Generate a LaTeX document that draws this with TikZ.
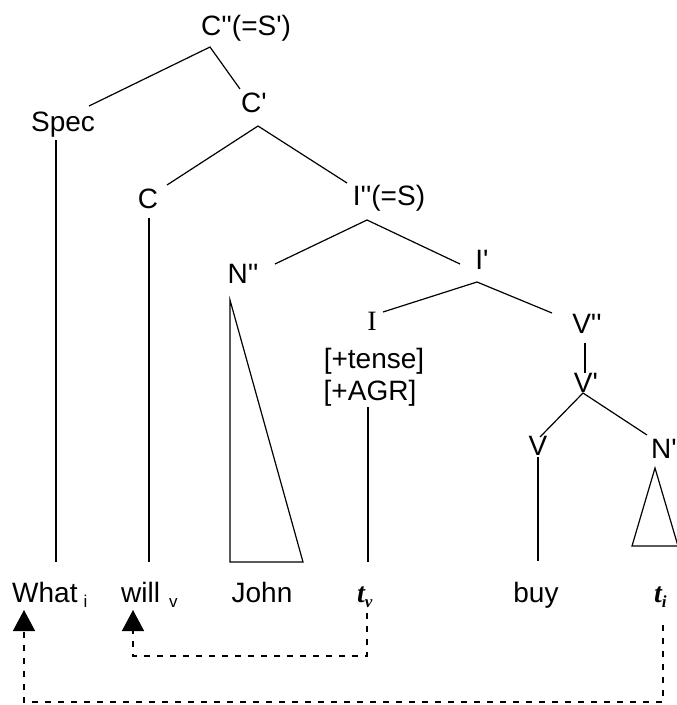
\documentclass[tikz,border=0pt]{standalone}
\usepackage{fontspec}
\setmainfont{Liberation Sans}[Ligatures=TeXOff]
\newfontfamily\serifI{Liberation Serif}
\usetikzlibrary{arrows.meta}

\tikzset{
  lab/.style={inner sep=0pt, anchor=base, font=\fontsize{28}{33}\selectfont},
  edge/.style={line width=1.2pt},
  trace/.style={line width=1.4pt, dash pattern=on 6pt off 7pt,
    -{Triangle[width=22pt,length=21pt]}},
}
\newcommand\subsc[1]{\raisebox{-5pt}{\fontsize{17}{17}\selectfont #1}}
\newcommand\trc[1]{{\serifI\bfseries\itshape t}\subsc{\serifI\bfseries\itshape #1}}

\begin{document}
\begin{tikzpicture}[x=1pt,y=-1pt]
\useasboundingbox (0,0) rectangle (677,705);

% category labels
\node[lab] (Cpp)   at (246,35)  {C''(=S')};
\node[lab] (Cp)    at (254,112) {C'};
\node[lab] (Spec)  at (63,131)  {Spec};
\node[lab] (C)     at (148,208) {C};
\node[lab] (Ipp)   at (389,205) {I''(=S)};
\node[lab] (Npp)   at (243,283) {N''};
\node[lab] (Ip)    at (482,269) {I'};
\node[lab] (I)     at (372,330) {\serifI I};
\node[lab] (tense) at (374,368) {[+tense]};
\node[lab] (agr)   at (370,400) {[+AGR]};
\node[lab] (Vpp)   at (587,333) {V''};
\node[lab] (Vp)    at (586,392) {V'};
\node[lab] (V)     at (538,455) {V};
\node[lab] (Np)    at (664,458) {N'};

% terminal string
\node[lab, anchor=base west] (what) at (12,602)  {What\hspace{6pt}\subsc{i}};
\node[lab, anchor=base west] (will) at (121,602) {will\hspace{9pt}\subsc{v}};
\node[lab] (john) at (262,602) {John};
\node[lab, anchor=base west] (tv) at (357,602) {\trc{v}};
\node[lab] (buy) at (536,602) {buy};
\node[lab, anchor=base west] (ti) at (654,602) {\trc{i}};

% branch points and branch ends
\coordinate (Cpp-j)  at (210,47);
\coordinate (Spec-t) at (89,106);
\coordinate (Cp-t)   at (240,89);
\coordinate (Cp-j)   at (258,126);
\coordinate (C-t)    at (167,185);
\coordinate (Ipp-t)  at (347,183);
\coordinate (Ipp-j)  at (367,220);
\coordinate (Npp-t)  at (275,264);
\coordinate (Ip-t)   at (460,264);
\coordinate (Ip-j)   at (477,282);
\coordinate (I-t)    at (383,312);
\coordinate (Vpp-t)  at (552,313);
\coordinate (Vpp-b)  at (585,343);
\coordinate (Vp-t)   at (585,373);
\coordinate (Vp-j)   at (583,393);
\coordinate (V-t)    at (540,437);
\coordinate (Np-t)   at (647,435);

% stems down to the terminals
\coordinate (Spec-b) at (56,140);
\coordinate (what-t) at (56,562);
\coordinate (C-b)    at (149,218);
\coordinate (will-t) at (149,562);
\coordinate (agr-b)  at (368,407);
\coordinate (tv-t)   at (368,562);
\coordinate (V-b)    at (538,457);
\coordinate (buy-t)  at (538,561);

% triangles
\coordinate (Npp-a)  at (230,300);
\coordinate (Npp-l)  at (230,562);
\coordinate (Npp-r)  at (303,562);
\coordinate (Np-a)   at (655,468);
\coordinate (Np-l)   at (632,546);
\coordinate (Np-r)   at (678,546);

% movement traces
\coordinate (tv-foot)  at (367,613);
\coordinate (tv-low)   at (367,656);
\coordinate (will-tip) at (133,610);
\coordinate (ti-foot)  at (663,625);
\coordinate (ti-low)   at (663,702);
\coordinate (what-tip) at (24,610);

\draw[edge] (Spec-t) -- (Cpp-j) -- (Cp-t);
\draw[edge] (C-t) -- (Cp-j) -- (Ipp-t);
\draw[edge] (Npp-t) -- (Ipp-j) -- (Ip-t);
\draw[edge] (I-t) -- (Ip-j) -- (Vpp-t);
\draw[edge] (Vpp-b) -- (Vp-t);
\draw[edge] (V-t) -- (Vp-j) -- (Np-t);

\draw[edge] (Spec-b) -- (what-t);
\draw[edge] (C-b) -- (will-t);
\draw[edge] (agr-b) -- (tv-t);
\draw[edge] (V-b) -- (buy-t);

\draw[edge] (Npp-a) -- (Npp-l) -- (Npp-r) -- cycle;
\draw[edge] (Np-a) -- (Np-l) -- (Np-r) -- cycle;

\draw[trace] (tv-foot) -- (tv-low) -| (will-tip);
\draw[trace] (ti-foot) -- (ti-low) -| (what-tip);
\end{tikzpicture}
\end{document}
